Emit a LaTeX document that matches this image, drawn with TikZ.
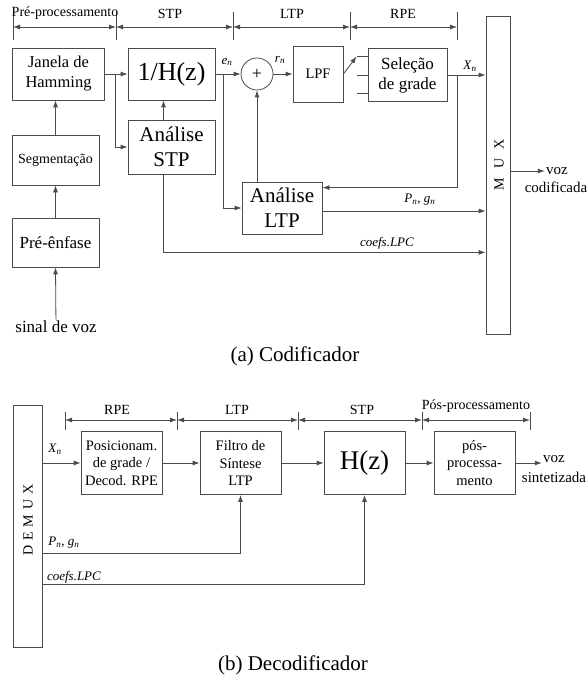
\documentclass[tikz,border=0pt]{standalone}
\usepackage{fontspec}
\setmainfont{Liberation Serif}
\usetikzlibrary{arrows.meta,calc}

\newcommand{\sbs}[2]{\textit{#1}\textsubscript{\textit{#2}}}
\newcommand{\fs}[2]{\fontsize{#1}{#2}\selectfont}

\begin{document}
\begin{tikzpicture}[x=1pt, y=-1pt, line width=0.8pt, color=black!70,
    >={Latex[length=7pt,width=5pt]},
    blk/.style={draw, align=center, inner sep=0pt, text=black},
    dec/.style={minimum width=81pt, minimum height=63pt, font=\fs{14.5}{17.5}},
    lbl/.style={inner sep=1pt, text=black, font=\fs{14}{16}},
    sig/.style={inner sep=1pt, text=black, font=\fs{13}{15}}]
    \useasboundingbox (0,0) rectangle (587,679);

    % Encoder: stage brackets
    \foreach \x in {13,116,233,350,457}
        \draw (\x,12) -- (\x,40);
    \foreach \a/\b in {13/116,116/233,233/350,350/457}
        \draw[<->] (\a,27) -- (\b,27);
    \node[lbl] (tpre) at (65,13) {Pré-processamento};
    \node[lbl] (tstp) at (170,14) {STP};
    \node[lbl] (tltp) at (292,14) {LTP};
    \node[lbl] (trpe) at (403,14) {RPE};

    % Encoder blocks
    \node[blk, minimum width=92pt, minimum height=52pt, font=\fs{16.5}{20}] (jan) at (58.5,74) {Janela de\\Hamming};
    \node[blk, minimum width=87pt, minimum height=52pt, font=\fs{26}{28}] (inv) at (171.5,74) {1/H(z)};
    \node[blk, minimum width=87pt, minimum height=54pt, font=\fs{21}{25}] (astp) at (171.5,147) {Análise\\STP};
    \node[blk, minimum width=87pt, minimum height=50pt, font=\fs{14}{16}] (seg) at (55.5,160) {Segmentação};
    \node[blk, minimum width=87pt, minimum height=49pt, font=\fs{17}{20}] (pre) at (55.5,242.5) {Pré-ênfase};
    \node[lbl, font=\fs{17}{20}] (sinal) at (56,327) {sinal de voz};
    \node[blk, circle, minimum size=32pt, font=\fs{18}{20}] (sum) at (257,74) {+};
    \node[blk, minimum width=80pt, minimum height=52pt, font=\fs{21}{25}] (altp) at (282,208) {Análise\\LTP};
    \node[blk, minimum width=50pt, minimum height=56pt, font=\fs{14.5}{16}] (lpf) at (318,74) {LPF};
    \node[blk, minimum width=79pt, minimum height=53pt, font=\fs{17}{20}] (sel) at (407.5,75) {Seleção\\de grade};
    \node[blk, minimum width=24pt, minimum height=318pt] (mux) at (498,175) {};
    \node[rotate=90, text=black, font=\fs{14}{16}] (muxt) at (499,165) {M\hspace{9pt}U\hspace{9pt}X};

    % Encoder connections
    \draw[->] (sinal) -- (pre.south);
    \draw[->] (pre.north) -- (seg.south);
    \draw[->] (seg.north) -- (seg.north |- jan.south);
    \draw[->] (jan.east) -- (inv.west);
    \coordinate (b1) at ($(jan.east)+(10,0)$);
    \draw[->] (b1) |- (astp.west);
    \draw[->] ($(astp.north)+(-8,0)$) -- ($(inv.south)+(-8,0)$);
    \draw[->] (inv.east) -- (sum.west);
    \coordinate (b2) at ($(inv.east)+(8,0)$);
    \draw[->] (b2) |- (altp.west);
    \draw[->] (altp.north -| sum) -- (sum.south);
    \draw[->] (sum.east) -- (lpf.west);
    \draw[->] (lpf.east) -- ($(sel.west)+(-11,-18.5)$);
    \foreach \dy in {-18.5,0,18.5}
        \draw ($(sel.west)+(-11,\dy)$) -- ($(sel.west)+(0,\dy)$);
    \draw[->] (sel.east) -- (sel.east -| mux.west);
    \coordinate (b3) at ($(sel.east)+(10,0)$);
    \draw[->] (b3) |- ($(altp.north east)+(0,6)$);
    \coordinate (pg) at ($(altp.east)+(0,3)$);
    \draw[->] (pg) -- (pg -| mux.west);
    \coordinate (lpc) at ($(astp.south)+(-8,78)$);
    \draw[->] ($(astp.south)+(-8,0)$) -- (lpc) -- (lpc -| mux.west);

    % Encoder signal labels
    \node[sig] (en) at (227,62) {\sbs{e}{n}};
    \node[sig] (rn) at (280,60) {\sbs{r}{n}};
    \node[sig] (xn) at (470,66) {\sbs{X}{n}};
    \node[sig] (pgl) at (420,200) {\sbs{P}{n}, \sbs{g}{n}};
    \node[sig] (lpcl) at (387,243) {\textit{coefs.LPC}};

    % Encoder output
    \node[lbl, font=\fs{15}{16}] (vozc) at (557,171) {voz};
    \node[lbl, font=\fs{15}{16}] (codf) at (556,187) {codificada};
    \draw[->] (mux.east |- vozc) -- (vozc.west);

    \node[text=black, font=\fs{21}{24}] (capa) at (295,356) {(a) Codificador};

    % Decoder: stage brackets
    \foreach \x in {65,177,298,422,530}
        \draw (\x,412) -- (\x,430);
    \foreach \a/\b in {65/177,177/298,298/422,422/530}
        \draw[<->] (\a,420) -- (\b,420);
    \node[lbl] (brpe) at (117,410) {RPE};
    \node[lbl] (bltp) at (237,410) {LTP};
    \node[lbl] (bstp) at (362,410) {STP};
    \node[lbl] (bpos) at (476,406) {Pós-processamento};

    % Decoder blocks
    \node[blk, minimum width=29pt, minimum height=242pt] (demux) at (27.5,526) {};
    \node[rotate=90, text=black, font=\fs{14}{16}] (demuxt) at (28,520) {D\hspace{5pt}E\hspace{5pt}M\hspace{5pt}U\hspace{5pt}X};
    \node[blk, dec] (pos) at (121.5,463) {Posicionam.\\de grade /\\Decod. RPE};
    \node[blk, dec] (filt) at (240.5,463) {Filtro de\\Síntese\\LTP};
    \node[blk, dec, font=\fs{27}{30}] (hz) at (364.5,463) {H(z)};
    \node[blk, dec] (posp) at (474.5,463) {pós-\\processa-\\mento};
    \node[lbl, font=\fs{15}{16}] (vozs) at (554,459) {voz};
    \node[lbl, font=\fs{15}{16}] (sint) at (554,477) {sintetizada};

    % Decoder connections
    \draw[->] (demux.east |- pos.west) -- (pos.west);
    \draw[->] (pos.east) -- (filt.west);
    \draw[->] (filt.east) -- (hz.west);
    \draw[->] (hz.east) -- (posp.west);
    \draw[->] (posp.east) -- (vozs.west |- posp.east);
    \coordinate (pgd) at (filt.south |- 0,553);
    \draw[->] (demux.east |- pgd) -- (pgd) -- (filt.south);
    \coordinate (lpcd) at (hz.south |- 0,584);
    \draw[->] (demux.east |- lpcd) -- (lpcd) -- (hz.south);

    % Decoder signal labels
    \node[sig] (xnd) at (55,449) {\sbs{X}{n}};
    \node[sig] (pgdl) at (64,543) {\sbs{P}{n}, \sbs{g}{n}};
    \node[sig] (lpcdl) at (74,577) {\textit{coefs.LPC}};

    \node[text=black, font=\fs{21}{24}] (capb) at (293,665) {(b) Decodificador};
\end{tikzpicture}
\end{document}
